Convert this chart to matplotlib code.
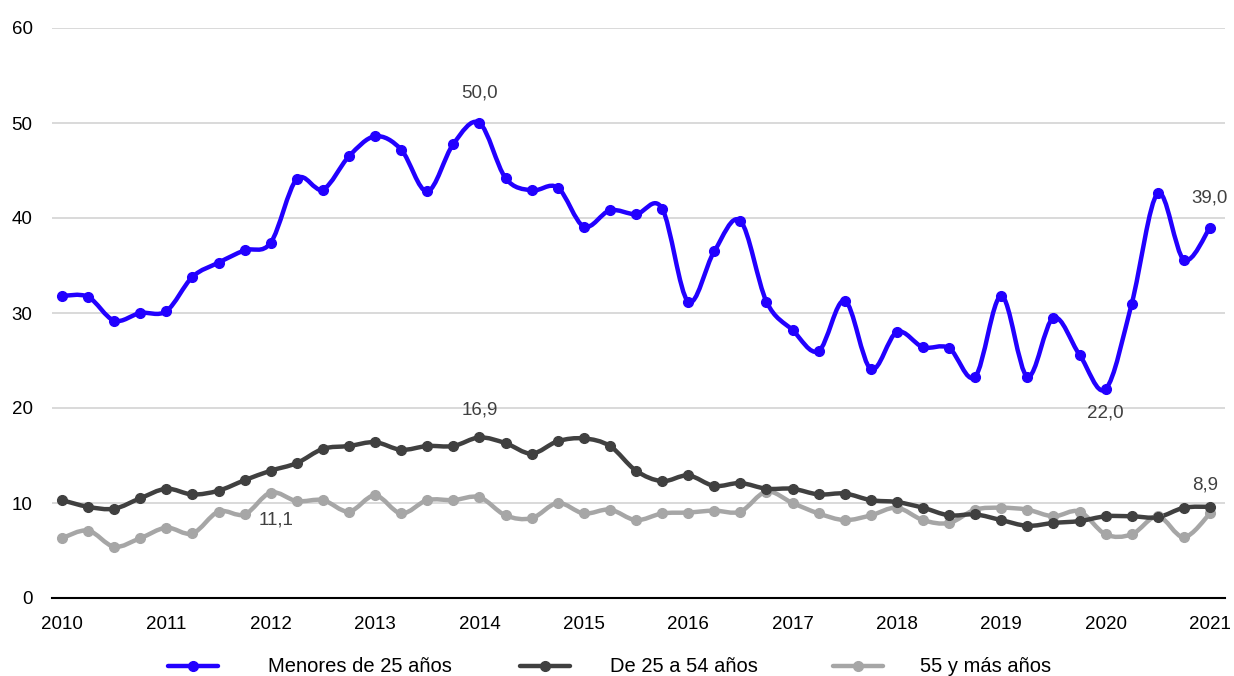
import numpy as np
import matplotlib
matplotlib.use("Agg")
import matplotlib.pyplot as plt
from matplotlib.path import Path
from matplotlib.patches import PathPatch
from matplotlib.lines import Line2D

plt.rcParams["font.family"] = ["Liberation Sans", "DejaVu Sans"]

# trimestres 2010 T1 .. 2021 T1
periodos = np.arange(2010, 2021.01, 0.25)
menores_25 = [31.8, 31.7, 29.2, 30.0, 30.2, 33.8, 35.3, 36.6, 37.4, 44.1, 43.0, 46.5,
              48.6, 47.2, 42.8, 47.8, 50.0, 44.2, 42.9, 43.2, 39.1, 40.8, 40.4, 41.0,
              31.2, 36.5, 39.7, 31.2, 28.2, 26.0, 31.3, 24.1, 28.0, 26.4, 26.3, 23.3,
              31.8, 23.3, 29.5, 25.6, 22.0, 31.0, 42.6, 35.6, 39.0]
de_25_54 = [10.3, 9.6, 9.4, 10.5, 11.5, 10.9, 11.3, 12.4, 13.4, 14.2, 15.7, 16.0,
            16.4, 15.6, 16.0, 16.0, 16.9, 16.3, 15.2, 16.5, 16.8, 16.0, 13.4, 12.3,
            12.9, 11.8, 12.1, 11.5, 11.5, 10.9, 11.0, 10.3, 10.1, 9.5, 8.7, 8.8,
            8.2, 7.6, 7.9, 8.1, 8.6, 8.6, 8.5, 9.5, 9.6]
mayores_55 = [6.3, 7.1, 5.4, 6.3, 7.4, 6.8, 9.1, 8.8, 11.1, 10.2, 10.3, 9.1,
              10.8, 8.9, 10.3, 10.3, 10.6, 8.7, 8.4, 10.0, 8.9, 9.3, 8.2, 8.9,
              9.0, 9.2, 9.1, 11.2, 10.0, 8.9, 8.2, 8.7, 9.5, 8.2, 7.9, 9.3,
              9.5, 9.3, 8.6, 9.1, 6.7, 6.7, 8.6, 6.4, 8.9]
series = [("Menores de 25 años", menores_25, "#2200FF"),
          ("De 25 a 54 años", de_25_54, "#404040"),
          ("55 y más años", mayores_55, "#A6A6A6")]
anios = list(range(2010, 2022))


def curva_suave(ax, x, y, color, lw):
    # linea suavizada tipo Excel (Catmull-Rom -> Bezier cubica)
    pts = ax.transData.transform(np.column_stack([x, y]))
    n = len(pts)
    verts, codes = [pts[0]], [Path.MOVETO]
    for i in range(n - 1):
        p0 = pts[max(i - 1, 0)]; p1 = pts[i]; p2 = pts[i + 1]; p3 = pts[min(i + 2, n - 1)]
        verts += [p1 + (p2 - p0) / 6.0, p2 - (p3 - p1) / 6.0, p2]
        codes += [Path.CURVE4] * 3
    ax.add_patch(PathPatch(Path(verts, codes), transform=None, facecolor="none",
                           edgecolor=color, lw=lw, capstyle="round",
                           joinstyle="round", zorder=3))


W, H = 1234, 676
fig = plt.figure(figsize=(W/100, H/100), dpi=100)
ax = fig.add_axes([52/W, 78/H, (1225-52)/W, (598-28)/H])
ax.set_xlim(2010 - 10/104.4, 2021 + 15/104.4)
ax.set_ylim(0, 60)
ax.set_yticks(range(0, 61, 10))
ax.set_xticks(anios)
ax.tick_params(length=0, labelsize=13.5, colors="#000000")
ax.tick_params(axis="y", pad=14)
ax.tick_params(axis="x", pad=13)
ax.grid(axis="y", color="#D9D9D9", lw=1.4)
ax.set_axisbelow(True)
for s in ["top", "right", "left"]:
    ax.spines[s].set_visible(False)
ax.spines["bottom"].set_color("#000000")
ax.spines["bottom"].set_linewidth(1.5)
ax.spines["bottom"].set_zorder(2)

fig.canvas.draw()
for nombre, vals, col in series[::-1]:
    curva_suave(ax, periodos, vals, col, 3.2)
    ax.plot(periodos, vals, "o", color=col, ms=7, zorder=4)

etiq = dict(fontsize=13.5, color="#404040", ha="center", va="center")
ax.text(2014, 53.2, "50,0", **etiq)
ax.text(2021, 42.1, "39,0", **etiq)
ax.text(2020, 19.5, "22,0", **etiq)
ax.text(2014, 19.8, "16,9", **etiq)
ax.text(2012.05, 8.2, "11,1", **etiq)
ax.text(2020.95, 11.9, "8,9", **etiq)

# leyenda manual
ley_y = 1 - 666/H
for (nombre, vals, col), hx, tx in zip(series, [168, 520, 833], [268, 610, 920]):
    fig.add_artist(Line2D([hx/W, (hx+50)/W], [ley_y, ley_y], color=col, lw=3.2,
                          solid_capstyle="round", transform=fig.transFigure))
    fig.add_artist(Line2D([(hx+25)/W], [ley_y], color=col, marker="o", ms=7,
                          transform=fig.transFigure))
    fig.text(tx/W, ley_y, nombre, fontsize=14.5, ha="left", va="center", color="#000000")

fig.savefig("out.png", dpi=100)
